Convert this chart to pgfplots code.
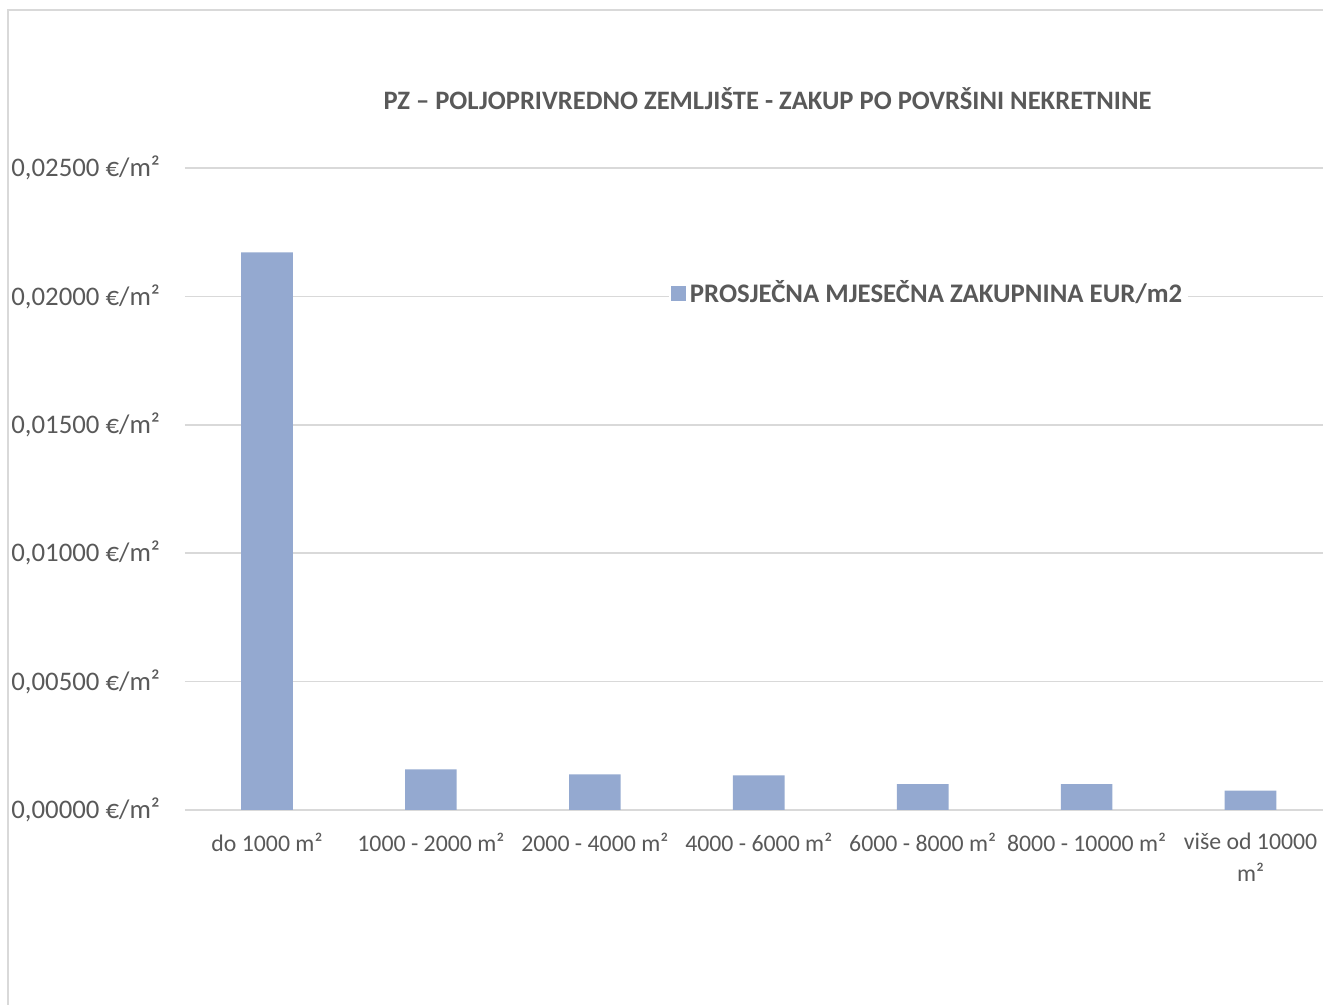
\documentclass[border=0pt]{standalone}
\usepackage{pgfplots}
\pgfplotsset{compat=1.18}
\usepackage{fontspec}
\setmainfont{Carlito}
\definecolor{barc}{HTML}{94A9D0}
\definecolor{txt}{HTML}{595959}
\definecolor{gridc}{HTML}{D9D9D9}
\begin{document}
\begin{tikzpicture}
\begin{axis}[
  at={(0,0)}, anchor=south west,
  scale only axis,
  width=573.75pt, height=321pt,
  xmin=-0.5, xmax=6.5,
  ymin=0, ymax=0.025,
  scaled y ticks=false,
  ytick={0,0.005,0.01,0.015,0.02,0.025},
  yticklabels={{0,00000 €/m²},{0,00500 €/m²},{0,01000 €/m²},{0,01500 €/m²},{0,02000 €/m²},{0,02500 €/m²}},
  xtick=data,
  xticklabels={{do 1000 m²},{1000 - 2000 m²},{2000 - 4000 m²},{4000 - 6000 m²},{6000 - 8000 m²},{8000 - 10000 m²},{više od 10000\\m²}},
  xticklabel style={align=center, font=\fontsize{11.9}{16}\selectfont, text=txt, anchor=north, yshift=-8pt},
  yticklabel style={font=\fontsize{13.4}{15}\selectfont, text=txt, anchor=east, xshift=-9pt},
  major tick length=0pt,
  ymajorgrids, grid style={gridc, line width=0.75pt},
  axis line style={draw=none},
  extra y ticks={0}, extra y tick labels={},
  extra y tick style={grid style={gridc, line width=1pt}},
  ybar, bar width=0.315,
  legend style={at={(0.4214,0.805)}, anchor=west, draw=none, fill=white, inner sep=1pt,
    font=\bfseries\fontsize{13.4}{15}\selectfont, text=txt, cells={anchor=west}},
  legend image code/.code={\fill[barc] (0pt,-3.75pt) rectangle (7.5pt,3.75pt);},
  clip=false,
]
\addplot[fill=barc, draw=none] coordinates {
 (0,0.02171) (1,0.001585) (2,0.00139) (3,0.00135) (4,0.00101) (5,0.00101) (6,0.00075)};
\addlegendentry{PROSJEČNA MJESEČNA ZAKUPNINA EUR/m2}
\end{axis}
\node[text=txt, font=\bfseries\fontsize{13.3}{15}\selectfont] at (291.25pt,355.5pt) {PZ – POLJOPRIVREDNO ZEMLJIŠTE - ZAKUP PO POVRŠINI NEKRETNINE};
\draw[gridc, line width=0.9pt] (-88.5pt,-97.5pt) -- (-88.5pt,400pt) -- (575pt,400pt);
\pgfresetboundingbox
\path[use as bounding box] (-92.5pt,-97.5pt) rectangle (569pt,405pt);
\end{tikzpicture}
\end{document}
